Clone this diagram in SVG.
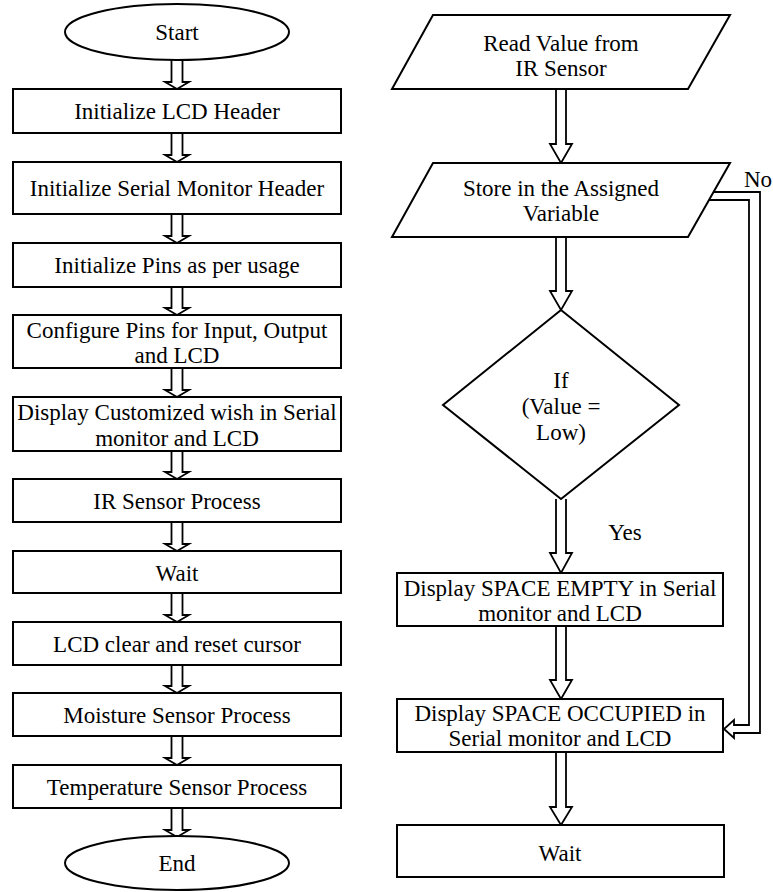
<svg xmlns="http://www.w3.org/2000/svg" width="773" height="892" viewBox="0 0 773 892">
<style>
  .box{fill:#fff;stroke:#000;stroke-width:2}
  .arr{fill:#fff;stroke:#000;stroke-width:1.8;stroke-linejoin:miter}
  text{font-family:"Liberation Serif","Times New Roman",serif;font-size:23px;fill:#000;text-anchor:middle}
</style>
<rect width="773" height="892" fill="#fff"/>
<g id="connectors">
  <path class="arr" d="M171.5,60 V82 H165 L177,89 L189,82 H182.5 V60"/>
  <path class="arr" d="M171.5,133 V155 H165 L177,162 L189,155 H182.5 V133"/>
  <path class="arr" d="M171.5,214 V236 H165 L177,243 L189,236 H182.5 V214"/>
  <path class="arr" d="M171.5,287 V308 H165 L177,315 L189,308 H182.5 V287"/>
  <path class="arr" d="M171.5,368 V390 H165 L177,397 L189,390 H182.5 V368"/>
  <path class="arr" d="M171.5,451 V472 H165 L177,479 L189,472 H182.5 V451"/>
  <path class="arr" d="M171.5,522 V544 H165 L177,551 L189,544 H182.5 V522"/>
  <path class="arr" d="M171.5,593 V615 H165 L177,622 L189,615 H182.5 V593"/>
  <path class="arr" d="M171.5,665 V686 H165 L177,693 L189,686 H182.5 V665"/>
  <path class="arr" d="M171.5,736 V758 H165 L177,765 L189,758 H182.5 V736"/>
  <path class="arr" d="M171.5,808 V830 H165 L177,837 L189,830 H182.5 V808"/>

  <path class="arr" d="M556,89 V144 H550 L561,163 L572,144 H566 V89"/>
  <path class="arr" d="M556,237 V291 H550 L561,310 L572,291 H566 V237"/>
  <path class="arr" d="M556,499 V553 H550 L561,573 L572,553 H566 V499"/>
  <path class="arr" d="M556,626 V680 H550 L561,699 L572,680 H566 V626"/>
  <path class="arr" d="M556,752 V807 H550 L561,825 L572,807 H566 V752"/>

  <path class="arr" d="M713,192 H760 V733 H734 V738 L724,729 L734,720 V725 H749 V200 H709"/>
  <text x="744" y="187" style="text-anchor:start">No</text>
  <text x="625" y="540">Yes</text>
</g>

<g id="start">
  <ellipse class="box" cx="177" cy="32" rx="112" ry="28"/>
  <text x="177" y="40">Start</text>
</g>
<g id="n1">
  <rect class="box" x="13" y="89" width="328" height="44"/>
  <text x="177" y="119">Initialize LCD Header</text>
</g>
<g id="n2">
  <rect class="box" x="13" y="162" width="328" height="52"/>
  <text x="177" y="196">Initialize Serial Monitor Header</text>
</g>
<g id="n3">
  <rect class="box" x="13" y="243" width="328" height="44"/>
  <text x="177" y="273">Initialize Pins as per usage</text>
</g>
<g id="n4">
  <rect class="box" x="13" y="315" width="328" height="53"/>
  <text x="177" y="338">Configure Pins for Input, Output</text>
  <text x="177" y="363">and LCD</text>
</g>
<g id="n5">
  <rect class="box" x="13" y="397" width="328" height="54"/>
  <text x="177" y="420">Display Customized wish in Serial</text>
  <text x="177" y="446">monitor and LCD</text>
</g>
<g id="n6">
  <rect class="box" x="13" y="479" width="328" height="43"/>
  <text x="177" y="509">IR Sensor Process</text>
</g>
<g id="n7">
  <rect class="box" x="13" y="551" width="328" height="42"/>
  <text x="177" y="581">Wait</text>
</g>
<g id="n8">
  <rect class="box" x="13" y="622" width="328" height="43"/>
  <text x="177" y="652">LCD clear and reset cursor</text>
</g>
<g id="n9">
  <rect class="box" x="13" y="693" width="328" height="43"/>
  <text x="177" y="723">Moisture Sensor Process</text>
</g>
<g id="n10">
  <rect class="box" x="13" y="765" width="328" height="43"/>
  <text x="177" y="795">Temperature Sensor Process</text>
</g>
<g id="end">
  <ellipse class="box" cx="177" cy="863" rx="112" ry="27"/>
  <text x="177" y="871">End</text>
</g>

<g id="r1">
  <polygon class="box" points="433,15 730,15 688,89 392,89"/>
  <text x="561" y="51">Read Value from</text>
  <text x="561" y="76">IR Sensor</text>
</g>
<g id="r2">
  <polygon class="box" points="433,163 730,163 688,237 392,237"/>
  <text x="561" y="196">Store in the Assigned</text>
  <text x="561" y="221">Variable</text>
</g>
<g id="r3">
  <polygon class="box" points="561,310 679,405 561,499 443,405"/>
  <text x="561" y="388">If</text>
  <text x="561" y="414">(Value =</text>
  <text x="561" y="440">Low)</text>
</g>
<g id="r4">
  <rect class="box" x="397" y="573" width="326" height="53"/>
  <text x="560" y="596">Display SPACE EMPTY in Serial</text>
  <text x="560" y="621">monitor and LCD</text>
</g>
<g id="r5">
  <rect class="box" x="397" y="699" width="326" height="53"/>
  <text x="560" y="721">Display SPACE OCCUPIED in</text>
  <text x="560" y="746">Serial monitor and LCD</text>
</g>
<g id="r6">
  <rect class="box" x="397" y="825" width="327" height="52"/>
  <text x="560" y="861">Wait</text>
</g>
</svg>
